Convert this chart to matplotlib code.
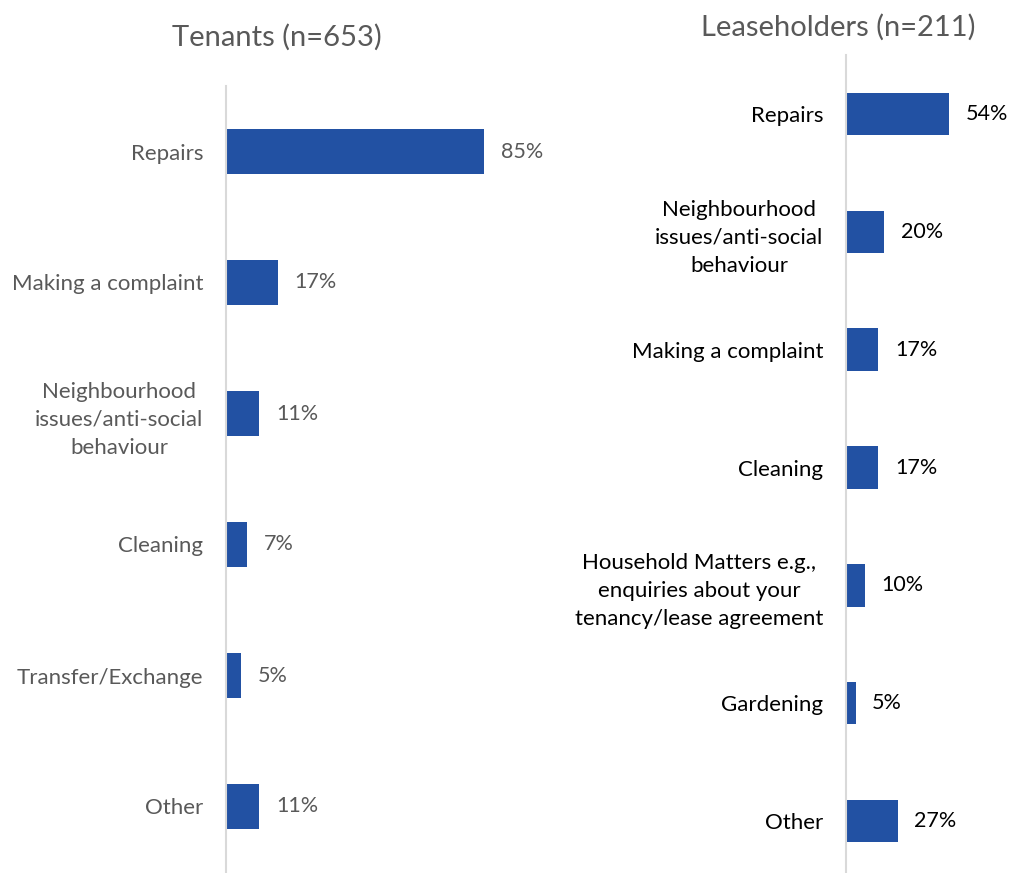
import matplotlib
matplotlib.use("Agg")
from matplotlib import pyplot as plt

plt.rcParams['font.family'] = ['Lato', 'DejaVu Sans']

tenant_cats = ["Repairs", "Making a complaint",
               "Neighbourhood\nissues/anti-social\nbehaviour",
               "Cleaning", "Transfer/Exchange", "Other"]
tenant_vals = [85, 17, 11, 7, 5, 11]

lease_cats = ["Repairs", "Neighbourhood\nissues/anti-social\nbehaviour",
              "Making a complaint", "Cleaning",
              "Household Matters e.g.,\nenquiries about your\ntenancy/lease agreement",
              "Gardening", "Other"]
lease_vals = [54, 20, 17, 17, 10, 5, 27]

bar_col = "#2251A3"
W, H = 1009, 873
fig = plt.figure(figsize=(W / 100, H / 100), dpi=100)


def panel(rect, cats, vals, xmax, bh, txtcol):
    ax = fig.add_axes(rect)
    y = list(range(len(cats)))
    bars = ax.barh(y, vals, height=bh, color=bar_col)
    ax.set_xlim(0, xmax)
    ax.set_ylim(len(cats) - 0.5, -0.5)
    ax.set_yticks(y)
    ax.set_yticklabels(cats, fontsize=16, color=txtcol, linespacing=1.5,
                       ha="right", multialignment="center")
    ax.tick_params(axis="y", length=0, pad=16.5)
    ax.set_xticks([])
    for s in ["top", "right", "bottom"]:
        ax.spines[s].set_visible(False)
    ax.spines["left"].set_color("#d9d9d9")
    ax.spines["left"].set_linewidth(1.5)
    ax.bar_label(bars, labels=[f"{v}%" for v in vals], padding=12,
                 fontsize=15.5, color=txtcol)
    ax.patch.set_alpha(0)
    return ax


panel([226 / W, 1 / H, 303.5 / W, 786 / H], tenant_cats, tenant_vals,
      100, 0.35, "#595959")
panel([846 / W, -7 / H, 152.8 / W, 825 / H], lease_cats, lease_vals,
      80, 0.36, "#000000")

fig.text(277 / W, 1 - 37 / H, "Tenants (n=653)", fontsize=21,
         color="#595959", ha="center", va="center")
fig.text(838 / W, 1 - 27 / H, "Leaseholders (n=211)", fontsize=21,
         color="#595959", ha="center", va="center")

fig.savefig("out.png", dpi=100)
